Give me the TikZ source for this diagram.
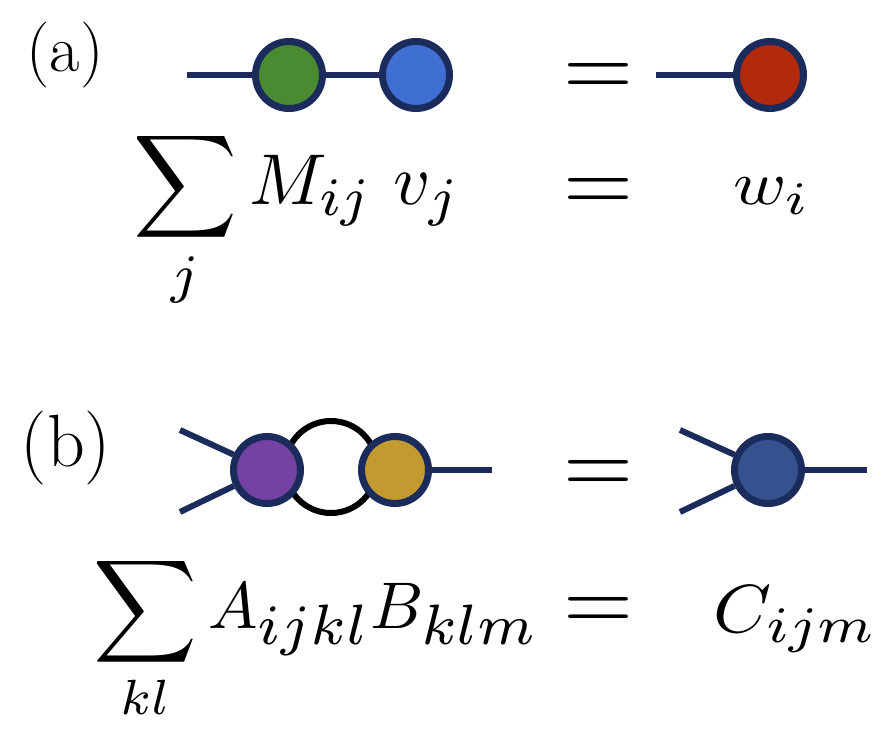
\documentclass[tikz,border=0pt]{standalone}
\usepackage{fix-cm}
\usepackage{amsmath}
\usepackage{graphicx}
\DeclareMathSizes{10}{10}{7.5}{5}
\usetikzlibrary{backgrounds}
\definecolor{navy}{HTML}{1B2B5B}
\definecolor{cgreen}{HTML}{4A8A30}
\definecolor{cblue}{HTML}{3F6FD2}
\definecolor{cred}{HTML}{B3290C}
\definecolor{cpurple}{HTML}{7442A2}
\definecolor{cgold}{HTML}{C29A30}
\definecolor{cdblue}{HTML}{35528F}
\tikzset{
  tensor/.style={circle, draw=navy, line width=7pt, minimum size=67pt, inner sep=0pt},
  leg/.style={draw=navy, line width=6pt},
  loopline/.style={draw=black, line width=6pt},
  mathnode/.style={inner sep=0pt, anchor=base west},
  eqsign/.style={inner sep=0pt, anchor=base},
  lab/.style={inner sep=0pt, font=\fontsize{66}{70}\selectfont},
}
\newcommand{\bigeq}{\scalebox{9}{$=$}}
\newcommand{\bsub}[1]{\scalebox{1.15}{$\scriptstyle #1$}}
\newcommand{\bsum}{\mathop{\vcenter{\hbox{\scalebox{1.09}{$\displaystyle\sum$}}}}\limits}
\begin{document}
\begin{tikzpicture}[x=1pt,y=-1pt]
\useasboundingbox (0,0) rectangle (884,730);
% (a)
\node[lab] (la) at (65,55) {(a)};
\coordinate (a0) at (187,75);
\node[tensor, fill=cgreen] (M) at (289,75) {};
\node[tensor, fill=cblue] (v) at (416,75) {};
\node[eqsign] (eqa1) at (598,96.5) {\bigeq};
\coordinate (a1) at (656,75);
\node[tensor, fill=cred] (w) at (770,75) {};
\begin{scope}[on background layer]
\draw[leg] (a0) -- (M) -- (v);
\draw[leg] (a1) -- (w);
\end{scope}
\node[mathnode] (suma) at (133,205) {\scalebox{7.2}{$\displaystyle\sum_j M_{ij}\;v_j$}};
\node[eqsign] (eqa2) at (598,211.5) {\bigeq};
\node[mathnode] (wi) at (733,205) {\scalebox{7.2}[6.2]{$w_i$}};
% (b)
\node[lab, font=\fontsize{74}{78}\selectfont] (lb) at (66,448) {(b)};
\coordinate (b0) at (180,430);
\coordinate (b1) at (180,512);
\node[tensor, fill=cpurple] (A) at (267,470) {};
\node[tensor, fill=cgold] (B) at (395,470) {};
\coordinate (b2) at (492,470);
\coordinate (loopc) at (331,467);
\node[eqsign] (eqb1) at (598,493) {\bigeq};
\coordinate (c0) at (680,430);
\coordinate (c1) at (680,512);
\node[tensor, fill=cdblue] (C) at (768,470) {};
\coordinate (c2) at (867,470);
\begin{scope}[on background layer]
\draw[leg] (b0) -- (A);
\draw[leg] (b1) -- (A);
\draw[leg] (B) -- (b2);
\draw[loopline] (loopc) circle[radius=46];
\draw[leg] (c0) -- (C);
\draw[leg] (c1) -- (C);
\draw[leg] (C) -- (c2);
\end{scope}
\node[mathnode] (sumb) at (93,628) {\scalebox{6.6}{$\displaystyle\bsum_{kl} A_{\bsub{ijkl}}B_{\bsub{klm}}$}};
\node[eqsign] (eqb2) at (598,630.5) {\bigeq};
\node[mathnode] (cijm) at (713,632) {\scalebox{7.4}[6.8]{$C_{ijm}$}};
\end{tikzpicture}
\end{document}
